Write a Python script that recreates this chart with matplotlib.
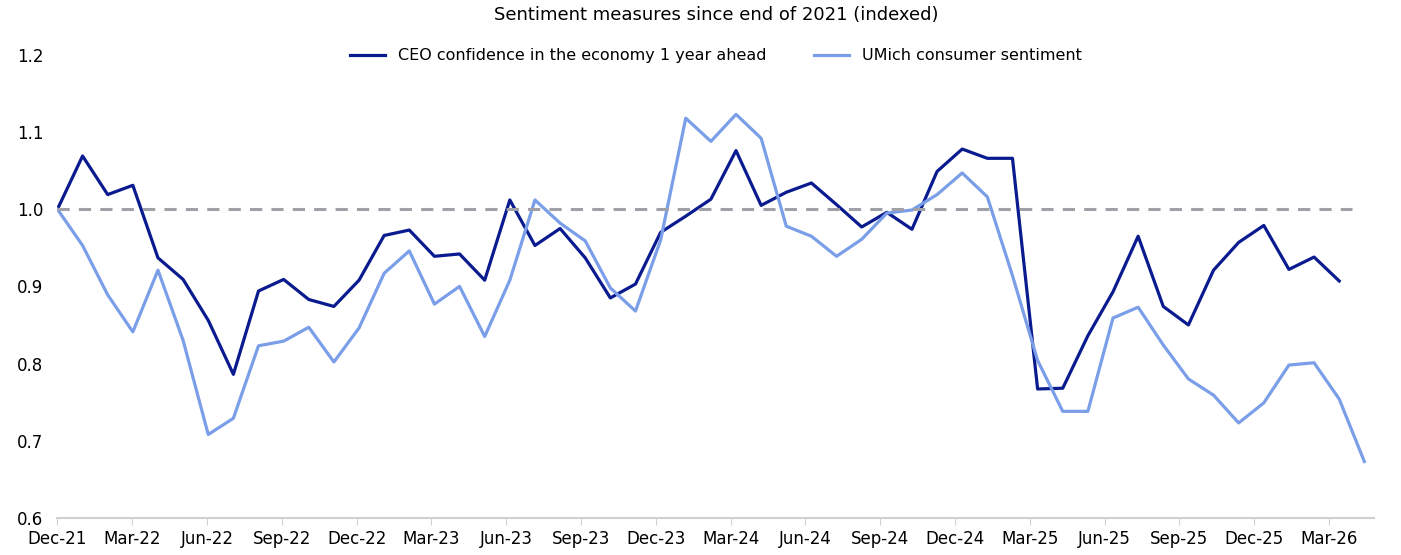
import matplotlib
matplotlib.use("Agg")
import matplotlib.pyplot as plt
import numpy as np

ceo = [1.0,1.069,1.019,1.031,0.937,0.909,0.856,0.786,0.894,0.909,0.883,0.874,0.908,0.966,0.973,0.939,
       0.942,0.908,1.012,0.953,0.975,0.937,0.885,0.903,0.970,0.991,1.013,1.076,1.005,1.022,1.034,1.006,
       0.977,0.996,0.974,1.049,1.078,1.066,1.066,0.767,0.768,0.836,0.893,0.965,0.874,0.850,0.921,0.957,
       0.979,0.922,0.938,0.907]
umich = [1.0,0.953,0.889,0.841,0.921,0.830,0.708,0.729,0.823,0.829,0.847,0.802,0.846,0.917,0.946,0.877,
         0.900,0.835,0.908,1.012,0.982,0.959,0.898,0.868,0.960,1.118,1.088,1.123,1.092,0.978,0.965,0.939,
         0.961,0.995,0.999,1.019,1.047,1.016,0.914,0.804,0.738,0.738,0.859,0.873,0.824,0.780,0.759,0.723,
         0.749,0.798,0.801,0.754,0.673]
tick_labels = ["Dec-21","Mar-22","Jun-22","Sep-22","Dec-22","Mar-23","Jun-23","Sep-23","Dec-23",
               "Mar-24","Jun-24","Sep-24","Dec-24","Mar-25","Jun-25","Sep-25","Dec-25","Mar-26"]

fig = plt.figure(figsize=(14.01,5.55), dpi=100)
ax = fig.add_axes([0.041, 0.067, 0.94, 0.834])
ax.plot(np.arange(len(ceo)), ceo, color="#0a1a8f", lw=2.3, label="CEO confidence in the economy 1 year ahead")
ax.plot(np.arange(len(umich)), umich, color="#7a9ee8", lw=2.3, label="UMich consumer sentiment")
ax.plot([0, 51.5], [1.0, 1.0], color="#a0a0a8", lw=2.2, ls=(0,(4,3)))
ax.set_ylim(0.6, 1.2)
ax.set_xlim(0, 52.4)
ax.set_yticks(np.arange(0.6, 1.21, 0.1))
ax.set_yticklabels([f"{v:.1f}" for v in np.arange(0.6, 1.21, 0.1)])
ticks = np.arange(len(tick_labels)) * 3 * 24.9 / 25.1
ax.set_xticks(ticks)
ax.set_xticklabels(tick_labels)
for s in ["top", "right", "left"]:
    ax.spines[s].set_visible(False)
ax.spines["bottom"].set_color("#d0d0d0")
ax.spines["bottom"].set_linewidth(1.5)
ax.tick_params(axis="y", length=0, labelsize=12, pad=10)
ax.tick_params(axis="x", length=5, color="#d0d0d0", labelsize=12, pad=4)
ax.set_title("Sentiment measures since end of 2021 (indexed)", fontsize=13, pad=25)
ax.legend(loc="upper center", bbox_to_anchor=(0.5, 1.045), ncol=2, frameon=False, fontsize=11.5,
          handlelength=2.2, columnspacing=3)
fig.savefig("out.png", dpi=100)
